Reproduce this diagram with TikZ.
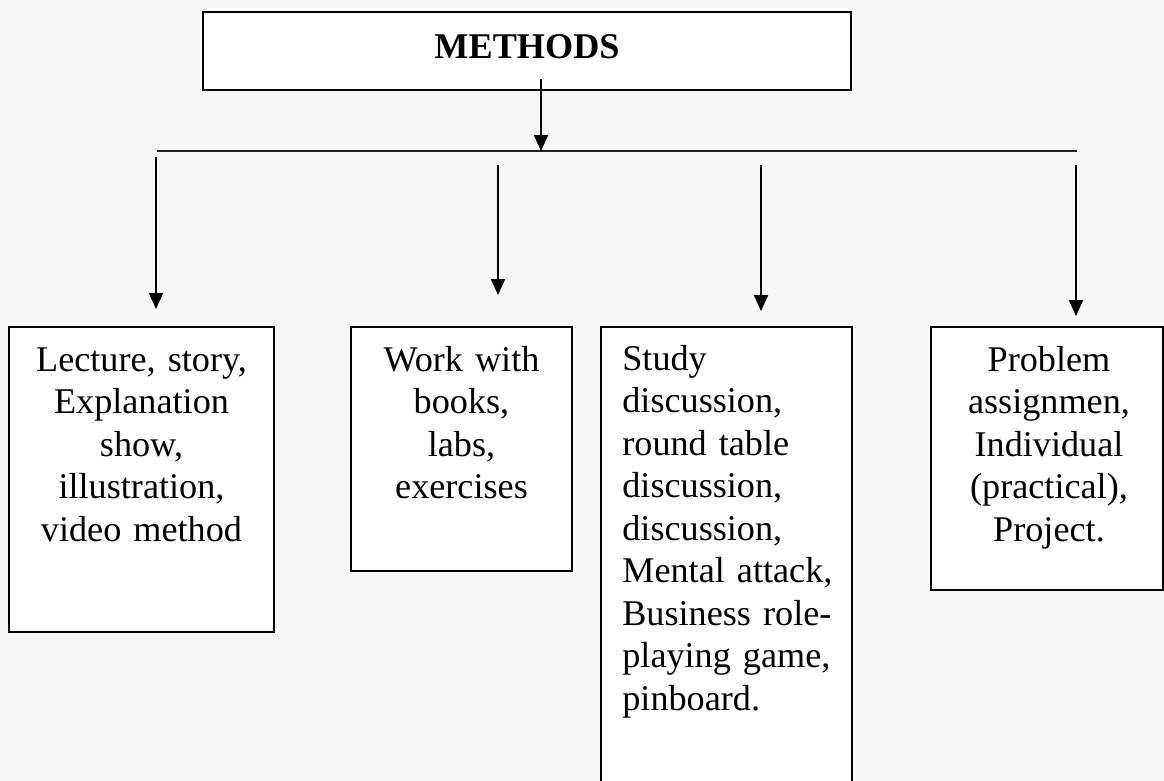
\documentclass[tikz,border=0pt]{standalone}
\usepackage{fontspec}
\setmainfont{Liberation Serif}
\usetikzlibrary{arrows.meta,positioning}
\definecolor{methodPaper}{HTML}{F7F7F7}
\definecolor{methodInk}{HTML}{000000}
\definecolor{methodRule}{HTML}{222222}

\begin{document}
\begin{tikzpicture}[x=0.02cm,y=-0.02cm,text=methodInk,
  font=\fontsize{20.6}{24.2}\selectfont,
  methodbox/.style={draw=methodInk,fill=white,line width=1.15pt,inner sep=0pt},
  boxtext/.style={anchor=base,align=center,inner sep=0pt},
  headtext/.style={anchor=base,inner sep=0pt,font=\fontsize{20.6}{24.2}\selectfont\bfseries},
  link/.style={draw=methodInk,line width=1.15pt,-{Triangle[width=0.28cm,length=0.32cm]}}]
  \fill[methodPaper] (0,0) rectangle (1164,781);
  \useasboundingbox (0,0) rectangle (1164,781);

  % Heading box and the rule that all four groups hang from.
  \node[methodbox,minimum width=12.96cm,minimum height=1.56cm] (M) at (527,51) {};
  \node[headtext] (Mlabel) at (527,58) {METHODS};
  \coordinate (mtail) at (541,79);
  \coordinate (busL) at (157,151);
  \coordinate (busR) at (1077,151);
  \draw[draw=methodRule,line width=1pt] (busL)--(busR);
  \draw[link] (mtail)--(mtail |- busL);

  % Method groups (boxes drawn first, their texts on top).
  \foreach \b/\cx/\cy/\w/\h in {b1/141.5/479.5/5.3cm/6.1cm,b2/461.5/449/4.42cm/4.88cm,
    b3/726.5/563.5/5.02cm/9.46cm,b4/1047/458.5/4.64cm/5.26cm}
    {\node[methodbox,minimum width=\w,minimum height=\h] (\b) at (\cx,\cy) {};}

  \node[boxtext,text width=5cm] (t1) at (141.5,371)
    {Lecture, story,\\Explanation\\show,\\illustration,\\video method};
  \node[boxtext,text width=4.2cm] (t2) at (461.5,371)
    {Work with\\books,\\labs,\\exercises};
  \node[boxtext,anchor=base west,align=left,text width=5cm] (t3) at (622,370)
    {Study\\discussion,\\round table\\discussion,\\discussion,\\Mental attack,\\Business role-\\playing game,\\pinboard.};
  \node[boxtext,text width=4.4cm] (t4) at (1049,371)
    {Problem\\assignmen,\\Individual\\(practical),\\Project.};

  % Drop arrows from the rule down to each group.
  \foreach \b/\x/\y/\gap in {b1/156/157/0.34cm,b2/498/165/0.62cm,b3/761/165/0.3cm,b4/1076/165/0.2cm}
    {\coordinate (tail\b) at (\x,\y);
     \draw[link,shorten >=\gap] (tail\b)--(tail\b |- \b.north);}
\end{tikzpicture}
\end{document}
